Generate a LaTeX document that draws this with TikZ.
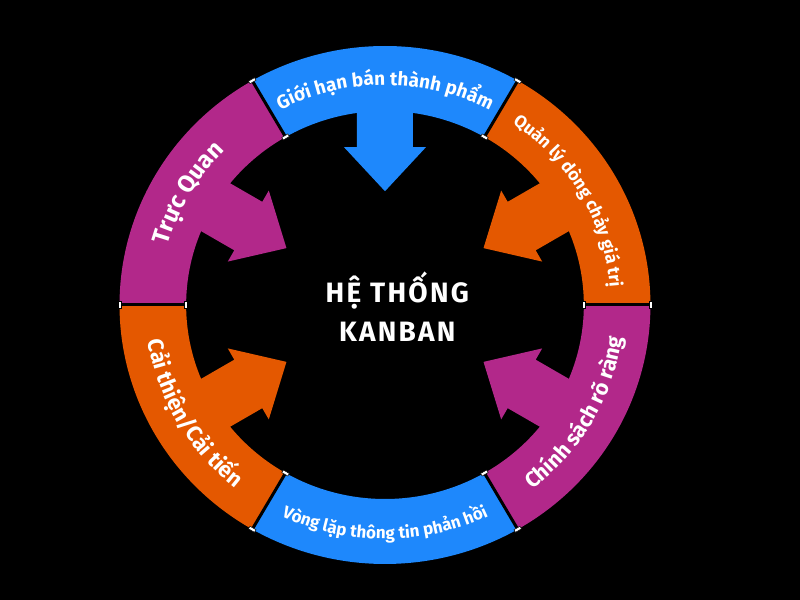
\documentclass[tikz,border=0pt]{standalone}
\usepackage{fontspec}
\setmainfont{Fira Sans}
\newfontfamily\titlefont{Fira Sans}[LetterSpace=8]
\usetikzlibrary{decorations.text}
\definecolor{kbBlue}{RGB}{30,136,252}
\definecolor{kbOrange}{RGB}{228,88,0}
\definecolor{kbPurple}{RGB}{178,40,138}

\begin{document}
\begin{tikzpicture}[
        x=1.025pt,y=1pt,
        handle/.style={draw=black,fill=white,line width=0.5pt,minimum width=3pt,minimum height=7pt,inner sep=0pt},
        title/.style={white,font=\titlefont\bfseries\fontsize{28}{30}\selectfont,anchor=base},
        curved/.style 2 args={decorate,decoration={text along path,text align=center,text color=white,
            text={|\fontsize{#1}{#1}\selectfont\bfseries|#2}}}
    ]
    \fill[black] (0,0) rectangle (780.5,600);
    \useasboundingbox (0,0) rectangle (780.5,600);
    \coordinate (ctr) at (375.6,295);
    \begin{scope}[shift={(ctr)}]
        \foreach \a/\c in {30/kbOrange,90/kbBlue,150/kbPurple,210/kbOrange,330/kbPurple}
            \fill[\c,rotate=\a] (111,0) -- (154,41) -- (154,28) -- (205,28) -- (205,-28) -- (154,-28) -- (154,-41) -- cycle;
        \foreach \a/\c [evaluate=\a as \b using \a+60] in {0/kbOrange,60/kbBlue,120/kbPurple,180/kbOrange,240/kbBlue,300/kbPurple}
            \fill[\c] (\a:194) arc[start angle=\a,end angle=\b,radius=194] -- (\b:259) arc[start angle=\b,end angle=\a,radius=259] -- cycle;
        \foreach \a in {0,60,...,300} {
            \draw[black,line width=3pt] (\a:194) -- (\a:259);
            \node[handle,rotate=\a] at (\a:194) {};
            \node[handle,rotate=\a] at (\a:259) {};
        }
        \path[curved={19}{Giới hạn bán thành phẩm}] (125:220) arc[start angle=125,end angle=55,radius=220];
        \path[curved={17.5}{Quản lý dòng chảy giá trị}] (65:220) arc[start angle=65,end angle=-5,radius=220];
        \path[curved={24}{Trực Quan}] (185:220) arc[start angle=185,end angle=115,radius=220];
        \path[curved={22}{Cải thiện/Cải tiến}] (175:234) arc[start angle=175,end angle=245,radius=234];
        \path[curved={17}{Vòng lặp thông tin phản hồi}] (235:234) arc[start angle=235,end angle=305,radius=234];
        \path[curved={21.5}{Chính sách rõ ràng}] (295:234) arc[start angle=295,end angle=365,radius=234];
        \node[title] (title) at (12,2) {HỆ THỐNG};
        \node[title] (subtitle) at (12,-37) {KANBAN};
    \end{scope}
\end{tikzpicture}
\end{document}
